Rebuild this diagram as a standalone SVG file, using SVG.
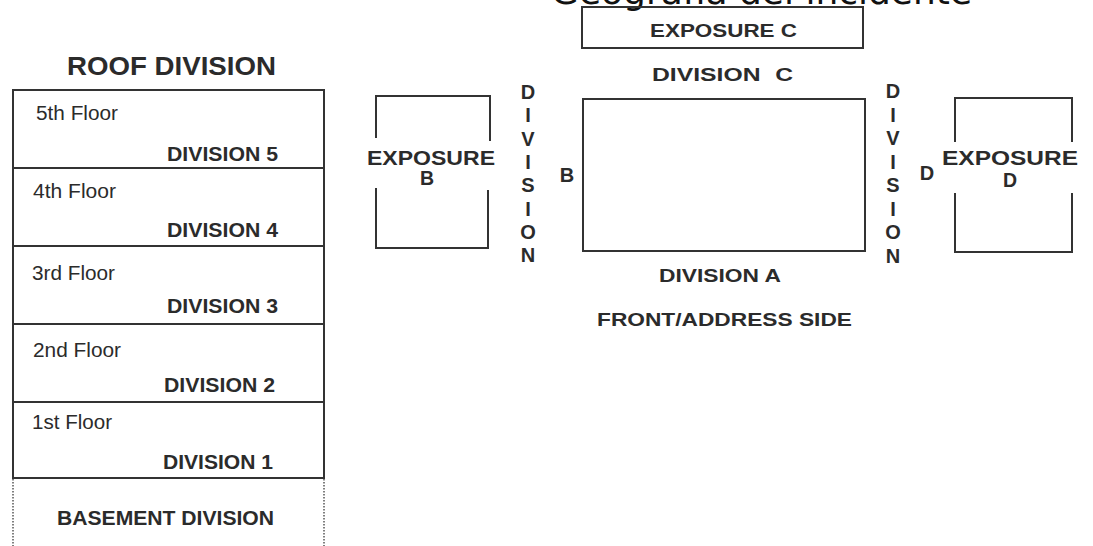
<svg xmlns="http://www.w3.org/2000/svg" width="1093" height="546" viewBox="0 0 1093 546">
<style>
.b{font-family:"Liberation Sans",Arial,sans-serif;font-weight:bold;fill:#2b2b2b}
.r{font-family:"Liberation Sans",Arial,sans-serif;fill:#2b2b2b}
.ln{fill:none;stroke:#333;stroke-width:2}
.dot{fill:none;stroke:#555;stroke-width:1.5;stroke-dasharray:1.5 1.5}
.vl{font-family:"Liberation Sans",Arial,sans-serif;font-weight:bold;fill:#2b2b2b;font-size:20px;text-anchor:middle}
</style>
<rect width="1093" height="546" fill="#fff"/>
<text x="551" y="4" font-family="DejaVu Sans,sans-serif" font-size="36" fill="#111">Geografía del incidente</text>

<g id="roof">
<text class="b" x="67" y="75" font-size="26" textLength="209" lengthAdjust="spacingAndGlyphs">ROOF DIVISION</text>
</g>
<g id="building">
<rect class="ln" x="13" y="90" width="311" height="388"/>
<line class="ln" x1="13" y1="168" x2="324" y2="168"/>
<line class="ln" x1="13" y1="246" x2="324" y2="246"/>
<line class="ln" x1="13" y1="324" x2="324" y2="324"/>
<line class="ln" x1="13" y1="402" x2="324" y2="402"/>
</g>
<g id="floor5">
<text class="r" x="36" y="120" font-size="19.5" textLength="82" lengthAdjust="spacingAndGlyphs">5th Floor</text>
<text class="b" x="167" y="161" font-size="20.5" textLength="111" lengthAdjust="spacingAndGlyphs">DIVISION 5</text>
</g>
<g id="floor4">
<text class="r" x="33" y="198" font-size="19.5" textLength="83" lengthAdjust="spacingAndGlyphs">4th Floor</text>
<text class="b" x="167" y="237" font-size="20.5" textLength="111" lengthAdjust="spacingAndGlyphs">DIVISION 4</text>
</g>
<g id="floor3">
<text class="r" x="32" y="280" font-size="19.5" textLength="83" lengthAdjust="spacingAndGlyphs">3rd Floor</text>
<text class="b" x="167" y="313" font-size="20.5" textLength="111" lengthAdjust="spacingAndGlyphs">DIVISION 3</text>
</g>
<g id="floor2">
<text class="r" x="33" y="357" font-size="19.5" textLength="88" lengthAdjust="spacingAndGlyphs">2nd Floor</text>
<text class="b" x="164" y="392" font-size="20.5" textLength="111" lengthAdjust="spacingAndGlyphs">DIVISION 2</text>
</g>
<g id="floor1">
<text class="r" x="32" y="429" font-size="19.5" textLength="80" lengthAdjust="spacingAndGlyphs">1st Floor</text>
<text class="b" x="163" y="469" font-size="20.5" textLength="110" lengthAdjust="spacingAndGlyphs">DIVISION 1</text>
</g>
<g id="basement">
<line class="dot" x1="13" y1="479" x2="13" y2="546"/>
<line class="dot" x1="324" y1="479" x2="324" y2="546"/>
<text class="b" x="57" y="525" font-size="20.5" textLength="217" lengthAdjust="spacingAndGlyphs">BASEMENT DIVISION</text>
</g>

<g id="exposureC">
<rect class="ln" x="582" y="7" width="281" height="41"/>
<text class="b" x="650" y="37" font-size="19" textLength="147" lengthAdjust="spacingAndGlyphs">EXPOSURE C</text>
</g>
<g id="divisionC">
<text class="b" x="652" y="81" font-size="19" textLength="141" lengthAdjust="spacingAndGlyphs" word-spacing="6">DIVISION C</text>
</g>
<g id="building-plan">
<rect class="ln" x="583" y="99" width="282" height="152"/>
</g>
<g id="divisionA">
<text class="b" x="659" y="282" font-size="19" textLength="122" lengthAdjust="spacingAndGlyphs">DIVISION A</text>
</g>
<g id="front">
<text class="b" x="597" y="326" font-size="19" textLength="255" lengthAdjust="spacingAndGlyphs">FRONT/ADDRESS SIDE</text>
</g>

<g id="exposureB">
<path class="ln" d="M376 138 V96 H490 V141"/>
<path class="ln" d="M376 188 V248 H488 V190"/>
<text class="b" x="367" y="165" font-size="19.5" textLength="128" lengthAdjust="spacingAndGlyphs">EXPOSURE</text>
<text class="b" x="427" y="185" font-size="19.5" text-anchor="middle">B</text>
</g>
<g id="divisionB">
<text class="vl" x="528" y="99">D</text>
<text class="vl" x="528" y="122">I</text>
<text class="vl" x="528" y="146">V</text>
<text class="vl" x="528" y="169">I</text>
<text class="vl" x="528" y="192">S</text>
<text class="vl" x="528" y="216">I</text>
<text class="vl" x="528" y="239">O</text>
<text class="vl" x="528" y="262">N</text>
<text class="vl" x="567" y="182">B</text>
</g>

<g id="divisionD">
<text class="vl" x="893" y="98">D</text>
<text class="vl" x="893" y="122">I</text>
<text class="vl" x="893" y="145">V</text>
<text class="vl" x="893" y="169">I</text>
<text class="vl" x="893" y="192">S</text>
<text class="vl" x="893" y="216">I</text>
<text class="vl" x="893" y="239">O</text>
<text class="vl" x="893" y="263">N</text>
<text class="vl" x="927" y="180">D</text>
</g>
<g id="exposureD">
<path class="ln" d="M955 142 V98 H1072 V142"/>
<path class="ln" d="M955 193 V252 H1072 V193"/>
<text class="b" x="942" y="165" font-size="19.5" textLength="136" lengthAdjust="spacingAndGlyphs">EXPOSURE</text>
<text class="b" x="1010" y="187" font-size="19.5" text-anchor="middle">D</text>
</g>
<g id="connectors"></g>
</svg>
